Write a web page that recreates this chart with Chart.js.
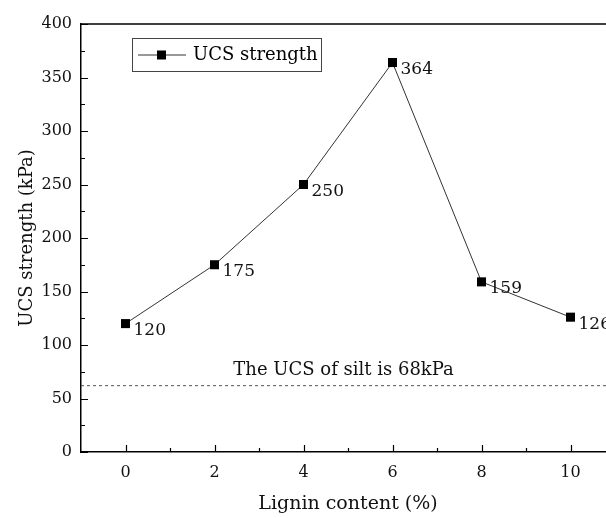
<!DOCTYPE html>
<html>
<head>
<meta charset="utf-8">
<script src="https://cdn.jsdelivr.net/npm/chart.js@4/dist/chart.umd.min.js"></script>
<style>
  html, body { margin: 0; padding: 0; background: #fff; overflow: hidden; }
  #wrap { width: 606px; height: 518px; overflow: hidden; }
</style>
</head>
<body>
<div id="wrap"><canvas id="myChart" width="640" height="518"></canvas></div>
<script>
// data
var lignin = [0, 2, 4, 6, 8, 10];
var ucs = [120, 175, 250, 364, 159, 126];
var xTicks = [0, 2, 4, 6, 8, 10];
var xMinor = [1, 3, 5, 7, 9];
var yTicks = [0, 50, 100, 150, 200, 250, 300, 350, 400];
var yMinor = [25, 75, 125, 175, 225, 275, 325, 375];
var siltLine = 62;          // where the dashed line sits
var siltText = 'The UCS of silt is 68kPa';
var seriesName = 'UCS strength';

var serif = "'DejaVu Serif', 'Liberation Serif', serif";

// box round the plot, inward ticks, point labels, legend, silt note
var extras = {
  id: 'extras',
  afterDraw: function (chart) {
    var ctx = chart.ctx;
    var a = chart.chartArea;
    var xs = chart.scales.x, ys = chart.scales.y;
    ctx.save();
    ctx.strokeStyle = '#000';
    ctx.lineWidth = 1.5;
    ctx.beginPath();
    ctx.moveTo(a.left, a.top); ctx.lineTo(a.right, a.top); ctx.lineTo(a.right, a.bottom);
    ctx.stroke();

    ctx.lineWidth = 1.2;
    ctx.beginPath();
    xTicks.forEach(function (v) { var px = Math.round(xs.getPixelForValue(v)) + 0.5; ctx.moveTo(px, a.bottom); ctx.lineTo(px, a.bottom - 7); });
    xMinor.forEach(function (v) { var px = Math.round(xs.getPixelForValue(v)) + 0.5; ctx.moveTo(px, a.bottom); ctx.lineTo(px, a.bottom - 4); });
    yTicks.forEach(function (v) { var py = Math.round(ys.getPixelForValue(v)) + 0.5; ctx.moveTo(a.left, py); ctx.lineTo(a.left + 7, py); });
    yMinor.forEach(function (v) { var py = Math.round(ys.getPixelForValue(v)) + 0.5; ctx.moveTo(a.left, py); ctx.lineTo(a.left + 4, py); });
    ctx.stroke();

    // value labels next to each point
    ctx.fillStyle = '#111';
    ctx.font = '17px ' + serif;
    ctx.textAlign = 'left';
    ctx.textBaseline = 'middle';
    chart.getDatasetMeta(0).data.forEach(function (pt, i) {
      ctx.fillText(String(ucs[i]), pt.x + 8, pt.y + 7);
    });

    // silt note above the dashed line
    ctx.font = '18px ' + serif;
    ctx.textAlign = 'center';
    ctx.textBaseline = 'alphabetic';
    ctx.fillText(siltText, xs.getPixelForValue(4.9), ys.getPixelForValue(siltLine) - 11);

    // legend box
    var lx = a.left + 51, ly = a.top + 14;
    ctx.strokeStyle = '#444';
    ctx.lineWidth = 1;
    ctx.strokeRect(lx + 0.5, ly + 0.5, 189, 33);
    ctx.strokeStyle = '#333';
    ctx.beginPath();
    ctx.moveTo(lx + 6, ly + 17); ctx.lineTo(lx + 54, ly + 17);
    ctx.stroke();
    ctx.fillStyle = '#000';
    ctx.fillRect(lx + 25, ly + 12.5, 9, 9);
    ctx.font = '18px ' + serif;
    ctx.textAlign = 'left';
    ctx.textBaseline = 'middle';
    ctx.fillText(chart.data.datasets[0].label, lx + 61, ly + 17);
    ctx.restore();
  }
};

var ctx = document.getElementById('myChart').getContext('2d');
var chart = new Chart(ctx, {
  type: 'line',
  data: {
    datasets: [{
      label: seriesName,
      data: lignin.map(function (x, i) { return { x: x, y: ucs[i] }; }),
      borderColor: '#333',
      borderWidth: 1,
      pointStyle: 'rect',
      pointRadius: 6.4,
      pointBackgroundColor: '#000',
      pointBorderWidth: 0,
      tension: 0
    }, {
      label: 'silt',
      data: [{ x: -1, y: siltLine }, { x: 11, y: siltLine }],
      borderColor: '#555',
      borderWidth: 1,
      borderDash: [3, 3],
      pointRadius: 0
    }]
  },
  options: {
    responsive: false,
    animation: false,
    layout: { padding: { top: 24, right: 25, left: 0, bottom: 0 } },
    plugins: { legend: { display: false }, tooltip: { enabled: false } },
    scales: {
      x: {
        type: 'linear',
        min: -1,
        max: 11,
        afterBuildTicks: function (s) { s.ticks = xTicks.map(function (v) { return { value: v }; }); },
        afterFit: function (s) { s.height = 66; },
        grid: { display: false, drawTicks: false },
        border: { display: true, color: '#000', width: 1.5 },
        ticks: { color: '#111', font: { family: serif, size: 16 }, padding: 11 },
        title: { display: true, text: 'Lignin content (%)', color: '#111', font: { family: serif, size: 19 }, padding: { top: 0, bottom: 3 } }
      },
      y: {
        min: 0,
        max: 400,
        afterBuildTicks: function (s) { s.ticks = yTicks.map(function (v) { return { value: v }; }); },
        afterFit: function (s) { s.width = 81; },
        grid: { display: false, drawTicks: false },
        border: { display: true, color: '#000', width: 1.5 },
        ticks: { color: '#111', font: { family: serif, size: 16 }, padding: 9 },
        title: { display: true, text: 'UCS strength (kPa)', color: '#111', font: { family: serif, size: 18 }, padding: { top: 17, bottom: 0 } }
      }
    }
  },
  plugins: [extras]
});
</script>
</body>
</html>
